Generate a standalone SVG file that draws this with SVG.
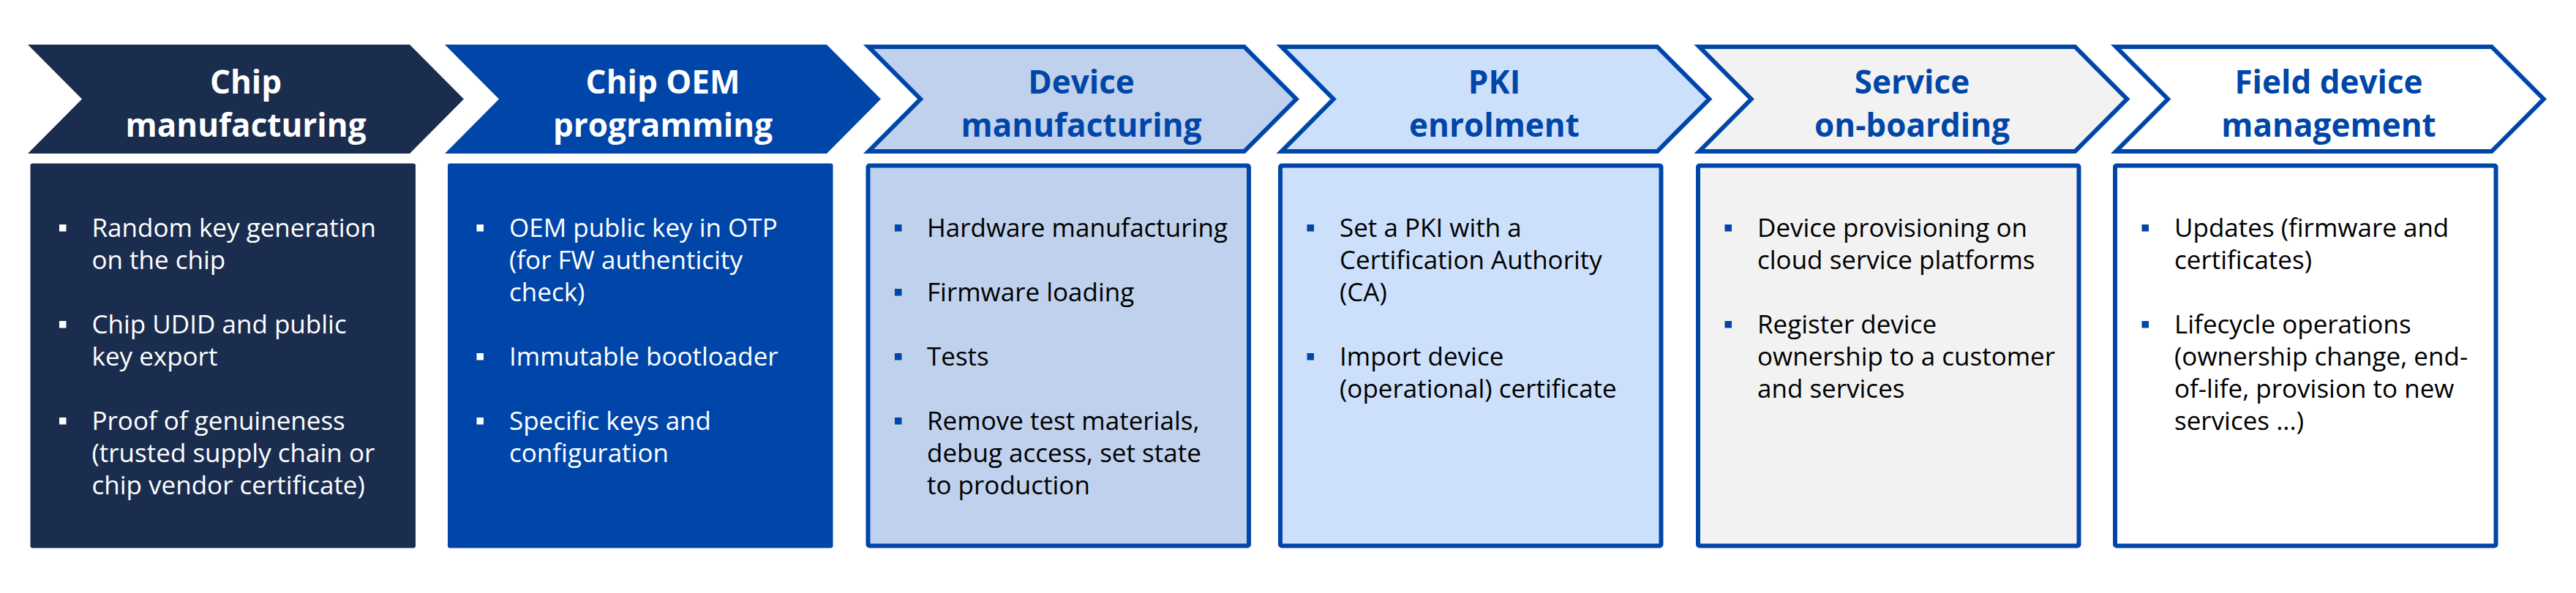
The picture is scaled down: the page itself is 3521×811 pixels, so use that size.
<svg xmlns="http://www.w3.org/2000/svg" width="3521" height="811" viewBox="0 0 3521 811">
<style>
.title{font-family:"Open Sans","Noto Sans","Liberation Sans",sans-serif;font-weight:700;font-size:44px;text-anchor:middle}
.body{font-family:"Open Sans","Noto Sans","Liberation Sans",sans-serif;font-size:35px}
.tw{fill:#FFFFFF}
.tb{fill:#0046A9}
.tk{fill:#000000}
.stk{stroke:#0046A9;stroke-width:6;stroke-linejoin:miter}
.bw{fill:#FFFFFF}
.bb{fill:#0046A9}
</style>
<rect x="0" y="0" width="3521" height="811" fill="#FFFFFF"/>

<g id="chip-manufacturing">
<path d="M38,61 L560,61 L634,135.5 L560,210 L38,210 L112,135.5 Z" fill="#1B2D4F"/>
<text class="title tw"><tspan x="336" y="128">Chip</tspan><tspan x="336" y="187">manufacturing</tspan></text>
<rect x="41.5" y="223.5" width="526.5" height="526" rx="3" fill="#1B2D4F"/>
<rect class="bw" x="81" y="307" width="9.5" height="9.5"/>
<rect class="bw" x="81" y="439" width="9.5" height="9.5"/>
<rect class="bw" x="81" y="571" width="9.5" height="9.5"/>
<text class="body tw"><tspan x="125.5" y="324">Random key generation</tspan><tspan x="125.5" y="368">on the chip</tspan><tspan x="125.5" y="456">Chip UDID and public</tspan><tspan x="125.5" y="500">key export</tspan><tspan x="125.5" y="588">Proof of genuineness</tspan><tspan x="125.5" y="632">(trusted supply chain or</tspan><tspan x="125.5" y="676">chip vendor certificate)</tspan></text>
</g>

<g id="chip-oem-programming">
<path d="M608,61 L1130,61 L1204,135.5 L1130,210 L608,210 L682,135.5 Z" fill="#0046A9"/>
<text class="title tw"><tspan x="906" y="128">Chip OEM</tspan><tspan x="906" y="187">programming</tspan></text>
<rect x="612" y="223.5" width="526.5" height="526" rx="3" fill="#0046A9"/>
<rect class="bw" x="651.5" y="307" width="9.5" height="9.5"/>
<rect class="bw" x="651.5" y="483" width="9.5" height="9.5"/>
<rect class="bw" x="651.5" y="571" width="9.5" height="9.5"/>
<text class="body tw"><tspan x="696" y="324">OEM public key in OTP</tspan><tspan x="696" y="368">(for FW authenticity</tspan><tspan x="696" y="412">check)</tspan><tspan x="696" y="500">Immutable bootloader</tspan><tspan x="696" y="588">Specific keys and</tspan><tspan x="696" y="632">configuration</tspan></text>
</g>

<g id="device-manufacturing">
<path class="stk" d="M1187.2,64 L1700.7,64 L1771.8,135.5 L1700.7,207 L1187.2,207 L1258.2,135.5 Z" fill="#BFD1EC"/>
<text class="title tb"><tspan x="1478" y="128">Device</tspan><tspan x="1478" y="187">manufacturing</tspan></text>
<rect class="stk" x="1186.5" y="226.5" width="520.5" height="520" rx="2" fill="#BFD1EC"/>
<rect class="bb" x="1223" y="307" width="9.5" height="9.5"/>
<rect class="bb" x="1223" y="395" width="9.5" height="9.5"/>
<rect class="bb" x="1223" y="483" width="9.5" height="9.5"/>
<rect class="bb" x="1223" y="571" width="9.5" height="9.5"/>
<text class="body tk"><tspan x="1267" y="324">Hardware manufacturing</tspan><tspan x="1267" y="412">Firmware loading</tspan><tspan x="1267" y="500">Tests</tspan><tspan x="1267" y="588">Remove test materials,</tspan><tspan x="1267" y="632">debug access, set state</tspan><tspan x="1267" y="676">to production</tspan></text>
</g>

<g id="pki-enrolment">
<path class="stk" d="M1751.7,64 L2265.2,64 L2336.3,135.5 L2265.2,207 L1751.7,207 L1822.7,135.5 Z" fill="#CCE0FC"/>
<text class="title tb"><tspan x="2042.5" y="128">PKI</tspan><tspan x="2042.5" y="187">enrolment</tspan></text>
<rect class="stk" x="1750" y="226.5" width="520.5" height="520" rx="2" fill="#CCE0FC"/>
<rect class="bb" x="1786.5" y="307" width="9.5" height="9.5"/>
<rect class="bb" x="1786.5" y="483" width="9.5" height="9.5"/>
<text class="body tk"><tspan x="1831" y="324">Set a PKI with a</tspan><tspan x="1831" y="368">Certification Authority</tspan><tspan x="1831" y="412">(CA)</tspan><tspan x="1831" y="500">Import device</tspan><tspan x="1831" y="544">(operational) certificate</tspan></text>
</g>

<g id="service-onboarding">
<path class="stk" d="M2322.7,64 L2836.2,64 L2907.3,135.5 L2836.2,207 L2322.7,207 L2393.7,135.5 Z" fill="#F2F2F2"/>
<text class="title tb"><tspan x="2613.5" y="128">Service</tspan><tspan x="2613.5" y="187">on-boarding</tspan></text>
<rect class="stk" x="2321" y="226.5" width="520.5" height="520" rx="2" fill="#F2F2F2"/>
<rect class="bb" x="2357.5" y="307" width="9.5" height="9.5"/>
<rect class="bb" x="2357.5" y="439" width="9.5" height="9.5"/>
<text class="body tk"><tspan x="2402" y="324">Device provisioning on</tspan><tspan x="2402" y="368">cloud service platforms</tspan><tspan x="2402" y="456">Register device</tspan><tspan x="2402" y="500">ownership to a customer</tspan><tspan x="2402" y="544">and services</tspan></text>
</g>

<g id="field-device-management">
<path class="stk" d="M2892.2,64 L3405.7,64 L3476.8,135.5 L3405.7,207 L2892.2,207 L2963.2,135.5 Z" fill="#FFFFFF"/>
<text class="title tb"><tspan x="3183" y="128">Field device</tspan><tspan x="3183" y="187">management</tspan></text>
<rect class="stk" x="2891" y="226.5" width="520.5" height="520" rx="2" fill="#FFFFFF"/>
<rect class="bb" x="2927.5" y="307" width="9.5" height="9.5"/>
<rect class="bb" x="2927.5" y="439" width="9.5" height="9.5"/>
<text class="body tk"><tspan x="2972" y="324">Updates (firmware and</tspan><tspan x="2972" y="368">certificates)</tspan><tspan x="2972" y="456">Lifecycle operations</tspan><tspan x="2972" y="500">(ownership change, end-</tspan><tspan x="2972" y="544">of-life, provision to new</tspan><tspan x="2972" y="588">services ...)</tspan></text>
</g>

<g id="connectors"></g>
</svg>
